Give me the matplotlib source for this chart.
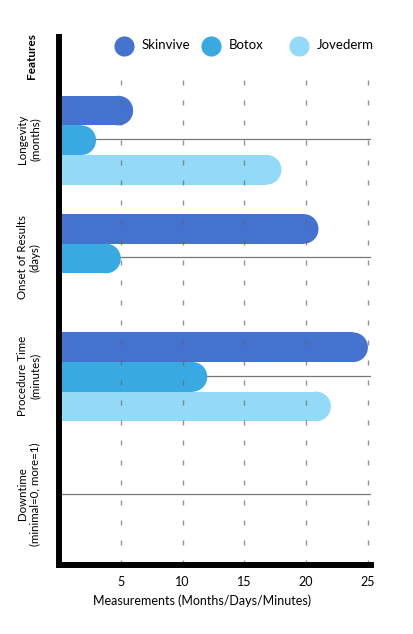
import matplotlib
matplotlib.use("Agg")
import matplotlib.pyplot as plt
from matplotlib.patches import Ellipse

features = ["Longevity\n(months)", "Onset of Results\n(days)",
            "Procedure Time\n(minutes)", "Downtime\n(minimal=0, more=1)"]
products = ["Skinvive", "Botox", "Jovederm"]
skinvive = [6, 21, 25, 0]
botox = [3, 5, 12, 0]
jovederm = [18, 0, 22, 0]
x_ticks = [5, 10, 15, 20, 25]

colors = ["#4472CF", "#38AAE1", "#93DAF8"]
offsets = [-0.24, 0.01, 0.26]
bar_h = 0.25
cap = 1.18  # radius of the rounded end, in data units

plt.rcParams["font.family"] = ["Lato", "DejaVu Sans"]

fig = plt.figure(figsize=(4.14, 6.34), dpi=100)
ax = fig.add_axes([59 / 414, 69 / 634, 312 / 414, 528 / 634])

for series, color, off in zip([skinvive, botox, jovederm], colors, offsets):
    for i, v in enumerate(series):
        if v <= 0:
            continue
        y = i + off
        ax.barh(y, v - cap, height=bar_h, color=color, zorder=2, linewidth=0)
        ax.add_patch(Ellipse((v - cap, y), 2 * cap, bar_h, color=color,
                             zorder=2, linewidth=0))

for i in range(len(features)):
    ax.axhline(i, color="#777777", lw=0.9, zorder=1)
for x in x_ticks:
    ax.axvline(x, ymax=0.922, color="#666666", lw=1.0, alpha=0.7,
               dashes=(3.6, 10.8), zorder=3)

ax.set_xlim(0, 25.25)
ax.set_ylim(3.60, -0.862)
ax.set_xticks(x_ticks)
ax.set_yticks(range(len(features)))
ax.set_yticklabels(features, rotation=90, va="center", ha="center",
                   multialignment="center", fontsize=8.3)
ax.tick_params(axis="y", length=0, pad=22)
ax.tick_params(axis="x", length=0, pad=8, labelsize=9)
ax.set_xlabel("Measurements (Months/Days/Minutes)", fontsize=9)
ax.xaxis.set_label_coords((202 - 59) / 312, -0.055)

for side in ["top", "right"]:
    ax.spines[side].set_visible(False)
for side in ["left", "bottom"]:
    ax.spines[side].set_linewidth(4.3)
    ax.spines[side].set_color("black")
    ax.spines[side].set_zorder(4)

fig.text(32 / 414, 1 - 56 / 634, "Features", rotation=90, ha="center",
         va="center", fontsize=8.5, fontweight="bold")

# legend: round markers with labels, laid out in fixed columns
legend_x = [124, 211, 299]
for px, name, color in zip(legend_x, products, colors):
    fig.lines.append(plt.Line2D([px / 414], [1 - 45.5 / 634], marker="o",
                                markersize=14.5, color=color, markeredgewidth=0,
                                transform=fig.transFigure))
    fig.text((px + 18) / 414, 1 - 45 / 634, name, ha="left", va="center",
             fontsize=9.5)

fig.savefig("out.png", dpi=100)
